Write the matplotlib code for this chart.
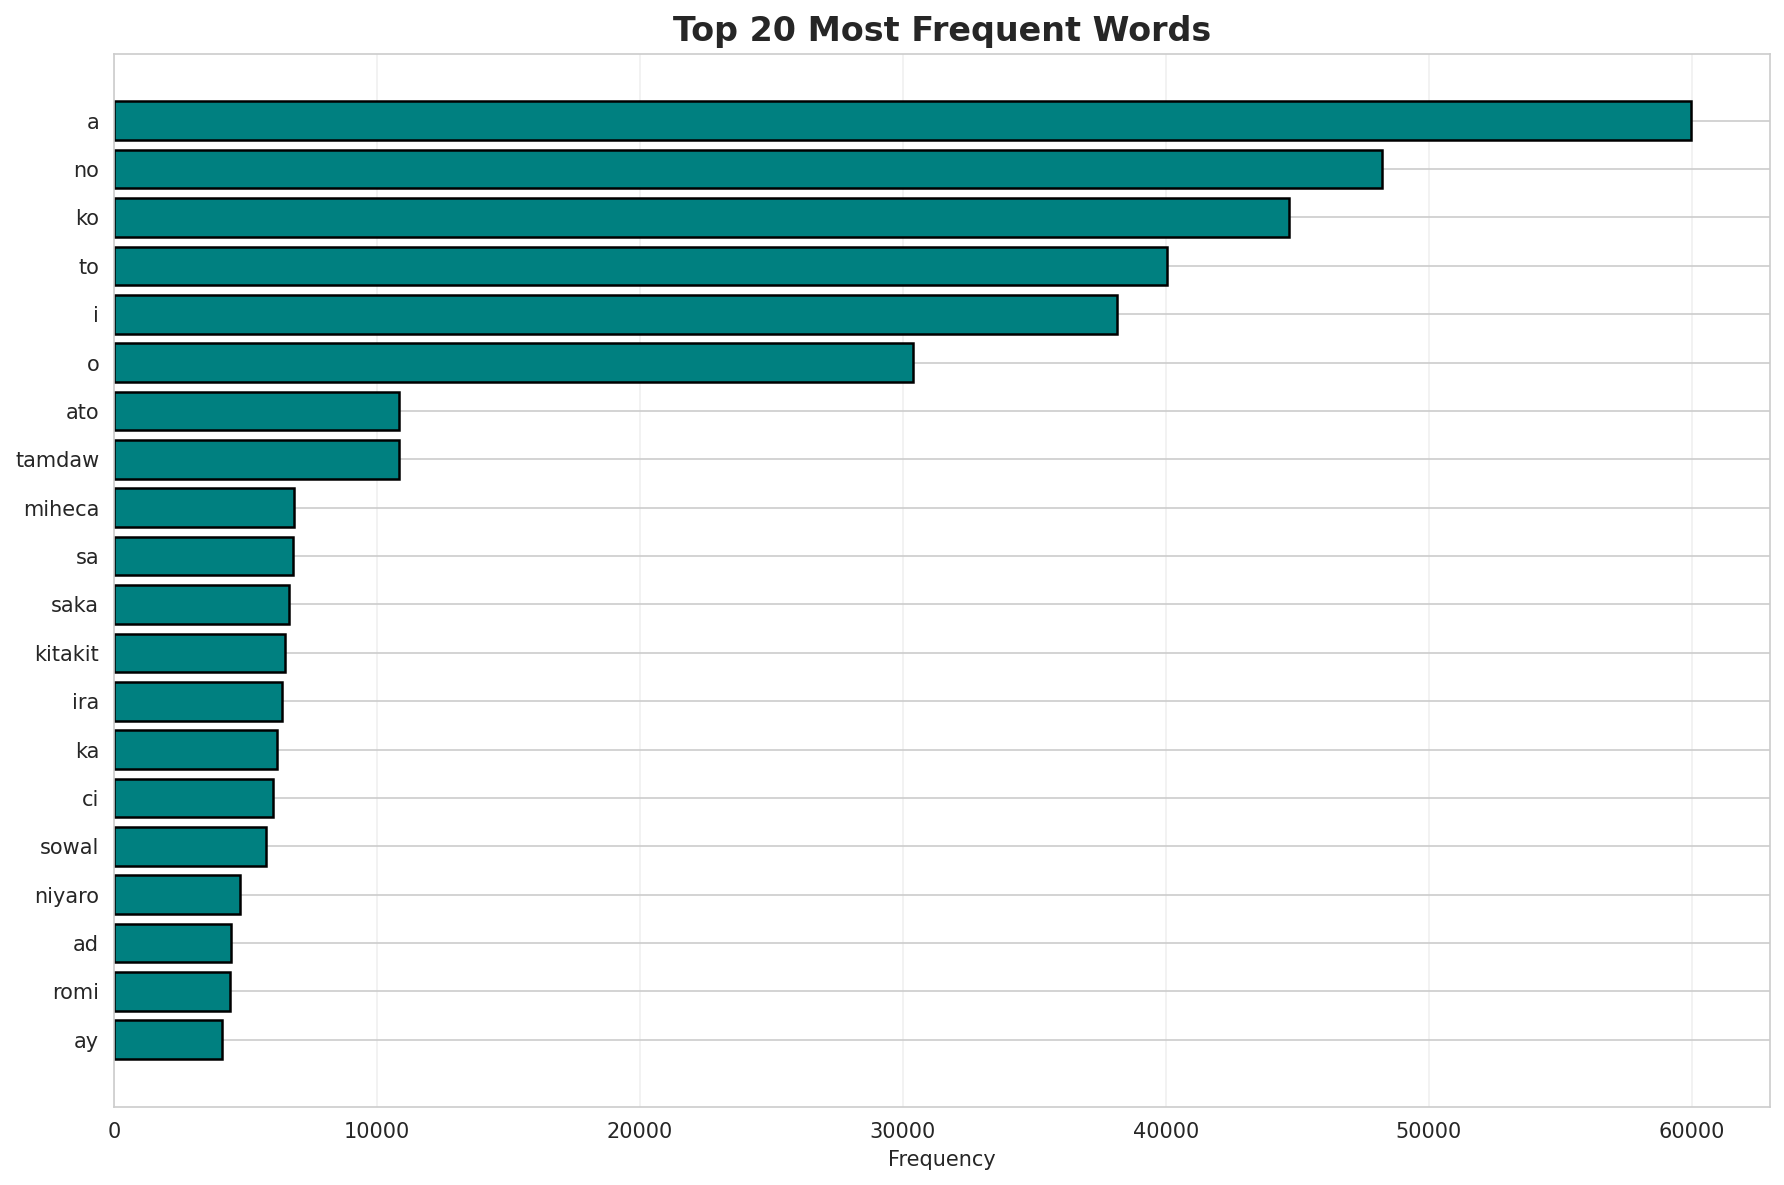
import matplotlib
matplotlib.use('Agg')
import matplotlib.pyplot as plt
import seaborn as sns

sns.set_style('whitegrid')

words = ['a', 'no', 'ko', 'to', 'i', 'o', 'ato', 'tamdaw', 'miheca', 'sa',
         'saka', 'kitakit', 'ira', 'ka', 'ci', 'sowal', 'niyaro', 'ad', 'romi', 'ay']
counts = [59950, 48230, 44680, 40050, 38150, 30400, 10860, 10860, 6840, 6800,
          6650, 6490, 6380, 6220, 6070, 5800, 4810, 4470, 4400, 4110]

fig, ax = plt.subplots(figsize=(12, 8))
ax.barh(words[::-1], counts[::-1], color='teal', edgecolor='black', linewidth=1.2)
ax.grid(axis='x', alpha=0.3)
ax.set_xlabel('Frequency')
ax.set_title('Top 20 Most Frequent Words', fontsize=16, fontweight='bold')
plt.tight_layout()
plt.savefig('out.png', dpi=150, bbox_inches='tight')
